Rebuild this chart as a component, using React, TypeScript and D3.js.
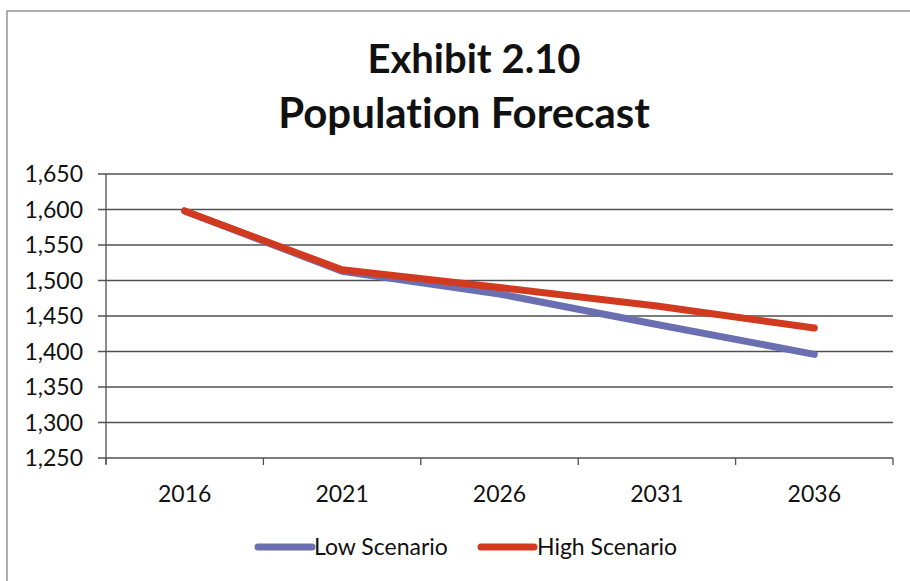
import React from "react";
import * as d3 from "d3";

const years = ["2016", "2021", "2026", "2031", "2036"];
const lowScenario = [1598, 1513, 1481, 1438, 1396];
const highScenario = [1598, 1515, 1490, 1464, 1433];
const yTicks = [1250, 1300, 1350, 1400, 1450, 1500, 1550, 1600, 1650];

const W = 910;
const H = 581;
const M = { left: 106, right: 893, top: 174, bottom: 458 };
const FONT = "Lato, 'Open Sans', sans-serif";
const BLUE = "#6a6fb2";
const RED = "#d13a1f";
const GRID = "#505050";

export default function App() {
  const x = d3.scaleBand<string>().domain(years).range([M.left, M.right]);
  const y = d3.scaleLinear().domain([1250, 1650]).range([M.bottom, M.top]);
  const fmt = d3.format(",");
  const line = d3
    .line<number>()
    .x((_, i) => (x(years[i]) as number) + x.bandwidth() / 2)
    .y((d) => y(d));

  const series = [
    { name: "Low Scenario", values: lowScenario, color: BLUE },
    { name: "High Scenario", values: highScenario, color: RED },
  ];

  const boundaries = years.map((yr) => x(yr) as number).concat([M.right]);
  const textStyle = { fontVariantLigatures: "none" as const };

  return (
    <svg
      width={W}
      height={H}
      style={{ position: "absolute", left: 0, top: 0, background: "#fff" }}
    >
      <rect x={0} y={0} width={W} height={H} fill="#fff" />
      <rect x={7} y={11} width={W + 10} height={H + 10} fill="none" stroke="#7a7a7a" strokeWidth={1.2} />

      <text x={474} y={73} textAnchor="middle" fontFamily={FONT} fontWeight={700} fontSize={40} fill="#111" style={textStyle}>
        Exhibit 2.10
      </text>
      <text x={464} y={128} textAnchor="middle" fontFamily={FONT} fontWeight={700} fontSize={42} fill="#111" style={textStyle}>
        Population Forecast
      </text>

      {yTicks.map((t) => (
        <g key={t}>
          <line x1={M.left - 8} x2={M.right} y1={y(t)} y2={y(t)} stroke={GRID} strokeWidth={1.3} />
          <text x={83} y={y(t) + 8} textAnchor="end" fontFamily={FONT} fontSize={23} fill="#111">
            {fmt(t)}
          </text>
        </g>
      ))}

      <line x1={M.left} x2={M.left} y1={M.top} y2={M.bottom + 6} stroke={GRID} strokeWidth={1.3} />
      {boundaries.map((bx, i) => (
        <line key={i} x1={bx} x2={bx} y1={M.bottom} y2={M.bottom + 7} stroke={GRID} strokeWidth={1.3} />
      ))}
      {years.map((yr) => (
        <text
          key={yr}
          x={(x(yr) as number) + x.bandwidth() / 2}
          y={502}
          textAnchor="middle"
          fontFamily={FONT}
          fontSize={23}
          fill="#111"
        >
          {yr}
        </text>
      ))}

      {series.map((s) => (
        <path
          key={s.name}
          d={line(s.values) || ""}
          fill="none"
          stroke={s.color}
          strokeWidth={7}
          strokeLinecap="round"
          strokeLinejoin="round"
        />
      ))}

      <line x1={258} x2={312} y1={547} y2={547} stroke={BLUE} strokeWidth={7} strokeLinecap="round" />
      <text x={314} y={555} fontFamily={FONT} fontSize={23} fill="#111">
        Low Scenario
      </text>
      <line x1={481} x2={534} y1={547} y2={547} stroke={RED} strokeWidth={7} strokeLinecap="round" />
      <text x={537} y={555} fontFamily={FONT} fontSize={23} fill="#111">
        High Scenario
      </text>
    </svg>
  );
}
